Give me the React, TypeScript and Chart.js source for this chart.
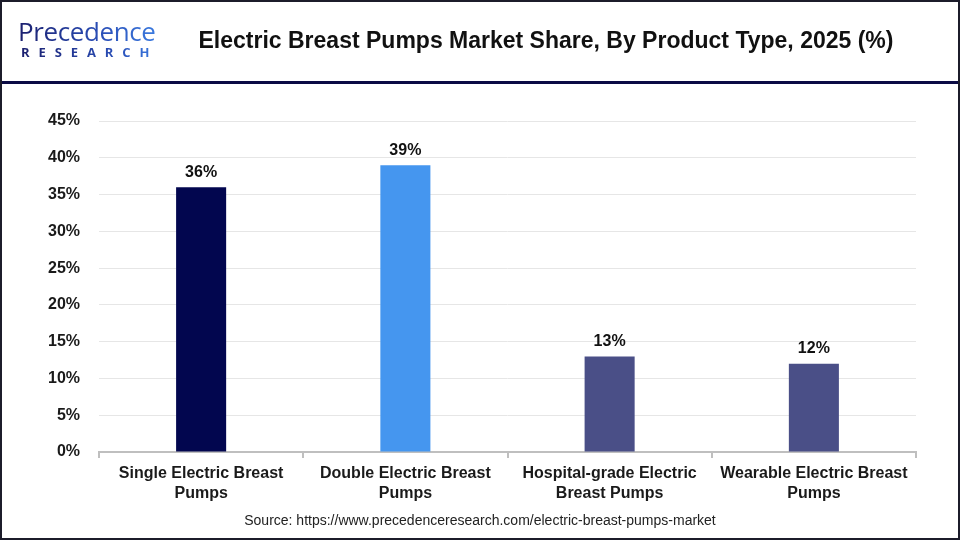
import React, { useEffect, useRef } from "react";
import { Chart, registerables } from "chart.js";

Chart.register(...registerables);

const categories: string[][] = [
  ["Single Electric Breast", "Pumps"],
  ["Double Electric Breast", "Pumps"],
  ["Hospital-grade Electric", "Breast Pumps"],
  ["Wearable Electric Breast", "Pumps"],
];
const shares: number[] = [36, 39, 13, 12];
const barColors: string[] = ["#02064f", "#4596ef", "#4a4f87", "#4a4f87"];
const yTickMax = 45;
const yTickStep = 5;

const title = "Electric Breast Pumps Market Share, By Product Type, 2025 (%)";
const source = "Source: https://www.precedenceresearch.com/electric-breast-pumps-market";

const FONT = "'Liberation Sans', Arial, sans-serif";

const valueLabels = {
  id: "valueLabels",
  afterDatasetsDraw(chart: any) {
    const ctx = chart.ctx;
    const meta = chart.getDatasetMeta(0);
    const data = chart.data.datasets[0].data as number[];
    ctx.save();
    ctx.font = `bold 16px ${FONT}`;
    ctx.fillStyle = "#111111";
    ctx.textAlign = "center";
    ctx.textBaseline = "bottom";
    meta.data.forEach((bar: any, i: number) => {
      ctx.fillText(`${data[i]}%`, bar.x, bar.y - 7);
    });
    ctx.restore();
  },
};

export default function App() {
  const canvasRef = useRef<HTMLCanvasElement | null>(null);

  useEffect(() => {
    if (!canvasRef.current) return;
    const chart = new Chart(canvasRef.current, {
      type: "bar",
      data: {
        labels: categories,
        datasets: [
          {
            data: shares,
            backgroundColor: barColors,
            barPercentage: 0.49,
            categoryPercentage: 0.5,
          },
        ],
      },
      options: {
        animation: false,
        responsive: false,
        maintainAspectRatio: false,
        layout: { padding: { top: 121, right: 44, bottom: 24, left: 0 } },
        plugins: {
          legend: { display: false },
          tooltip: { enabled: false },
          title: { display: false },
        },
        scales: {
          x: {
            afterFit: (scale: any) => {
              scale.height = 64;
            },
            grid: {
              display: true,
              drawOnChartArea: false,
              drawTicks: true,
              tickLength: 6,
              offset: true,
              color: "#bfbfbf",
              lineWidth: 2,
            },
            border: { display: true, color: "#bfbfbf", width: 2 },
            ticks: {
              color: "#1a1a1a",
              font: { family: FONT, size: 16, weight: "bold", lineHeight: 1.25 },
              padding: 6,
              maxRotation: 0,
              autoSkip: false,
            },
          },
          y: {
            min: 0,
            max: yTickMax,
            afterFit: (scale: any) => {
              scale.width = 99;
            },
            grid: { color: "#e6e6e6", lineWidth: 1, drawTicks: false },
            border: { display: false },
            ticks: {
              stepSize: yTickStep,
              color: "#1a1a1a",
              font: { family: FONT, size: 16, weight: "bold" },
              padding: 19,
              callback: (v: any) => `${v}%`,
            },
          },
        },
      },
      plugins: [valueLabels],
    });
    return () => chart.destroy();
  }, []);

  return (
    <div
      style={{
        position: "fixed",
        left: 0,
        top: 0,
        width: 960,
        height: 540,
        background: "#ffffff",
        overflow: "hidden",
        fontFamily: FONT,
      }}
    >
      <canvas
        ref={canvasRef}
        width={960}
        height={540}
        style={{ position: "absolute", left: 0, top: 0, width: 960, height: 540 }}
      />
      {/* header: logo, title and divider */}
      <div
        style={{
          position: "absolute",
          left: 18,
          top: 18,
          fontFamily: "'Open Sans', sans-serif",
          lineHeight: 1,
        }}
      >
        <div
          style={{
            fontSize: 26,
            fontWeight: 500,
            letterSpacing: -0.4,
            background: "linear-gradient(90deg, #1b1f6e 0%, #2a4fb8 60%, #3b7be0 100%)",
            WebkitBackgroundClip: "text",
            backgroundClip: "text",
            color: "transparent",
          }}
        >
          Precedence
        </div>
        <div
          style={{
            marginTop: 2,
            marginLeft: 3,
            fontSize: 13,
            fontWeight: 700,
            letterSpacing: 8.9,
            background: "linear-gradient(90deg, #1b1f6e 0%, #2a4fb8 70%, #3b7be0 100%)",
            WebkitBackgroundClip: "text",
            backgroundClip: "text",
            color: "transparent",
          }}
        >
          RESEARCH
        </div>
      </div>
      <div
        style={{
          position: "absolute",
          left: 152,
          right: 20,
          top: 27,
          textAlign: "center",
          fontSize: 23,
          fontWeight: 700,
          color: "#111111",
          fontFamily: FONT,
          whiteSpace: "nowrap",
        }}
      >
        {title}
      </div>
      <div
        style={{
          position: "absolute",
          left: 0,
          top: 81,
          width: 960,
          height: 3,
          background: "#0b0b45",
        }}
      />
      <div
        style={{
          position: "absolute",
          left: 0,
          width: 960,
          top: 512,
          textAlign: "center",
          fontSize: 14,
          color: "#222222",
          fontFamily: FONT,
        }}
      >
        {source}
      </div>
      <div
        style={{
          position: "absolute",
          left: 0,
          top: 0,
          width: 960,
          height: 540,
          boxSizing: "border-box",
          border: "2px solid #1c1c2a",
          pointerEvents: "none",
        }}
      />
    </div>
  );
}
